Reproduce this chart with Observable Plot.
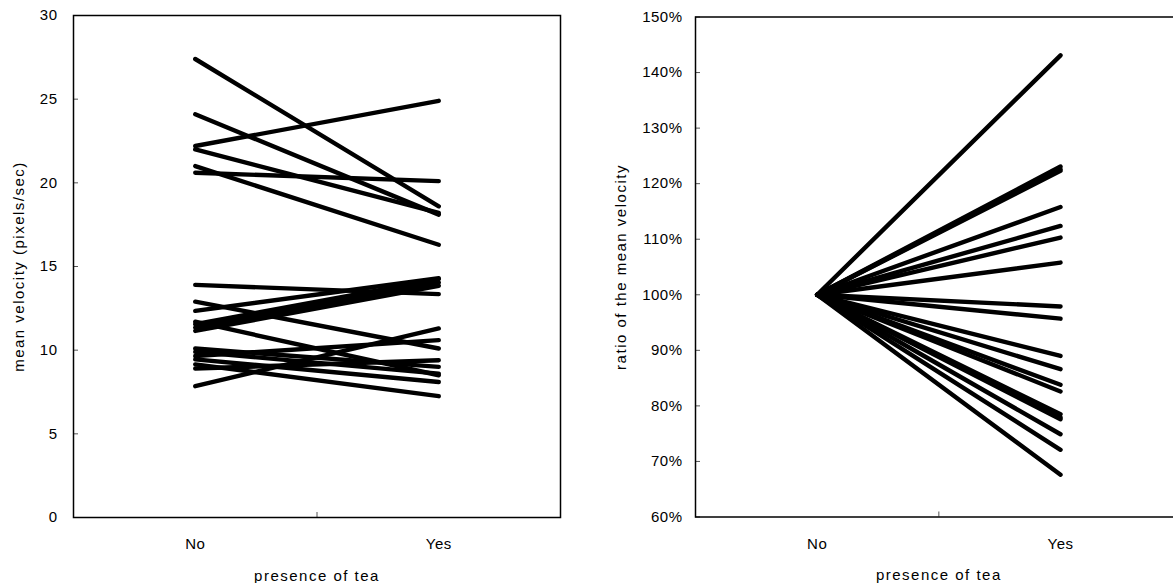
<!DOCTYPE html>
<html>
<head>
<meta charset="utf-8">
<script src="https://cdn.jsdelivr.net/npm/d3@7"></script>
<script src="https://cdn.jsdelivr.net/npm/@observablehq/plot@0.6"></script>
<style>
  html, body { margin: 0; padding: 0; background: #fff; }
  #wrap { position: relative; width: 1173px; height: 583px; overflow: hidden; background: #fff; }
  #left { position: absolute; left: 0; top: 0; width: 600px; height: 583px; }
  #right { position: absolute; left: 600px; top: 0; width: 600px; height: 583px; }
  #wrap svg { max-width: none !important; width: 600px; height: 583px; }
  svg [aria-label$="axis label"] text { letter-spacing: 1.5px; }
  svg [aria-label$="tick label"] text { letter-spacing: 0.5px; }
</style>
</head>
<body>
<div id="wrap"><div id="left"></div><div id="right"></div></div>
<script>
// ---- data ----
const categories = ["No", "Yes"];

// mean velocity (pixels/sec) per subject, without tea (No) and with tea (Yes)
const velocityNo  = [27.4, 24.1, 22.2, 22.0, 21.0, 20.6, 13.9, 12.9, 12.35, 11.7, 11.55, 11.35, 11.15, 10.1, 9.9, 9.65, 9.45, 9.15, 8.9, 7.85];
const velocityYes = [18.6, 18.1, 24.9, 18.2, 16.3, 20.1, 13.35, 10.1, 14.3, 8.5, 14.25, 14.05, 13.85, 9.0, 8.6, 10.6, 8.1, 7.25, 9.4, 11.3];

// ratio of the mean velocity (%), baseline (No) and with tea (Yes)
const ratioNo  = [100, 100, 100, 100, 100, 100, 100, 100, 100, 100, 100, 100, 100, 100, 100, 100, 100, 100, 100, 100];
const ratioYes = [143.1, 123.1, 122.6, 122.3, 115.8, 112.4, 110.3, 105.8, 97.9, 95.7, 89.0, 86.6, 83.8, 82.6, 78.5, 77.9, 77.6, 74.9, 72.1, 67.6];

const velocityTicks = [0, 5, 10, 15, 20, 25, 30];
const ratioTicks = [60, 70, 80, 90, 100, 110, 120, 130, 140, 150];

const xLabel = "presence of tea";
const yLabelLeft = "mean velocity (pixels/sec)";
const yLabelRight = "ratio of the mean velocity";

// ---- build tables ----
function toRows(noVals, yesVals) {
  const rows = [];
  noVals.forEach((v, i) => {
    rows.push({subject: i, cond: categories[0], value: v});
    rows.push({subject: i, cond: categories[1], value: yesVals[i]});
  });
  return rows;
}
const velocityRows = toRows(velocityNo, velocityYes);
const ratioRows = toRows(ratioNo, ratioYes);

const catPos = d => categories.indexOf(d.cond) + 0.5;
const catTicks = categories.map((c, i) => i + 0.5);
const catFormat = t => categories[Math.round(t - 0.5)];

const font = {fontFamily: "'Liberation Sans', Arial, sans-serif", fontSize: "15px", color: "#000", background: "#fff", overflow: "visible"};

function panel({width, height, mL, mR, mT, mB, rows, yDomain, yTicks, yFormat, yLabel, yLabelOffset, yPad}) {
  const plotW = width - mL - mR;
  const plotH = height - mT - mB;
  return Plot.plot({
    width, height,
    marginLeft: mL, marginRight: mR, marginTop: mT, marginBottom: mB,
    style: font,
    x: {type: "linear", domain: [0, categories.length]},
    y: {type: "linear", domain: yDomain},
    marks: [
      Plot.axisY({ticks: yTicks, tickFormat: yFormat, tickSize: 0, tickPadding: yPad,
        label: yLabel, labelAnchor: "center", labelOffset: yLabelOffset, labelArrow: "none"}),
      Plot.axisX({ticks: catTicks, tickFormat: catFormat, tickSize: 0, tickPadding: 21,
        label: xLabel, labelAnchor: "center", labelOffset: 63, labelArrow: "none"}),
      Plot.tickY(yTicks, {y: d => d, stroke: "#555", strokeWidth: 1, insetRight: plotW - 5}),
      Plot.tickX([1], {x: d => d, stroke: "#555", strokeWidth: 1, insetTop: plotH - 5}),
      Plot.line(rows, {x: catPos, y: "value", z: "subject", stroke: "#000", strokeWidth: 4.4,
        strokeLinecap: "round", strokeLinejoin: "round"}),
      Plot.frame({stroke: "#000", strokeWidth: 1.5})
    ]
  });
}

document.getElementById("left").append(panel({
  width: 600, height: 583, mL: 73, mR: 40, mT: 15, mB: 66,
  rows: velocityRows, yDomain: [0, 30], yTicks: velocityTicks, yFormat: d => String(d),
  yLabel: yLabelLeft, yLabelOffset: 60, yPad: 16
}));

document.getElementById("right").append(panel({
  width: 600, height: 583, mL: 95, mR: 18.3, mT: 16.5, mB: 66.5,
  rows: ratioRows, yDomain: [60, 150], yTicks: ratioTicks, yFormat: d => d + "%",
  yLabel: yLabelRight, yLabelOffset: 80, yPad: 13
}));
</script>
</body>
</html>
